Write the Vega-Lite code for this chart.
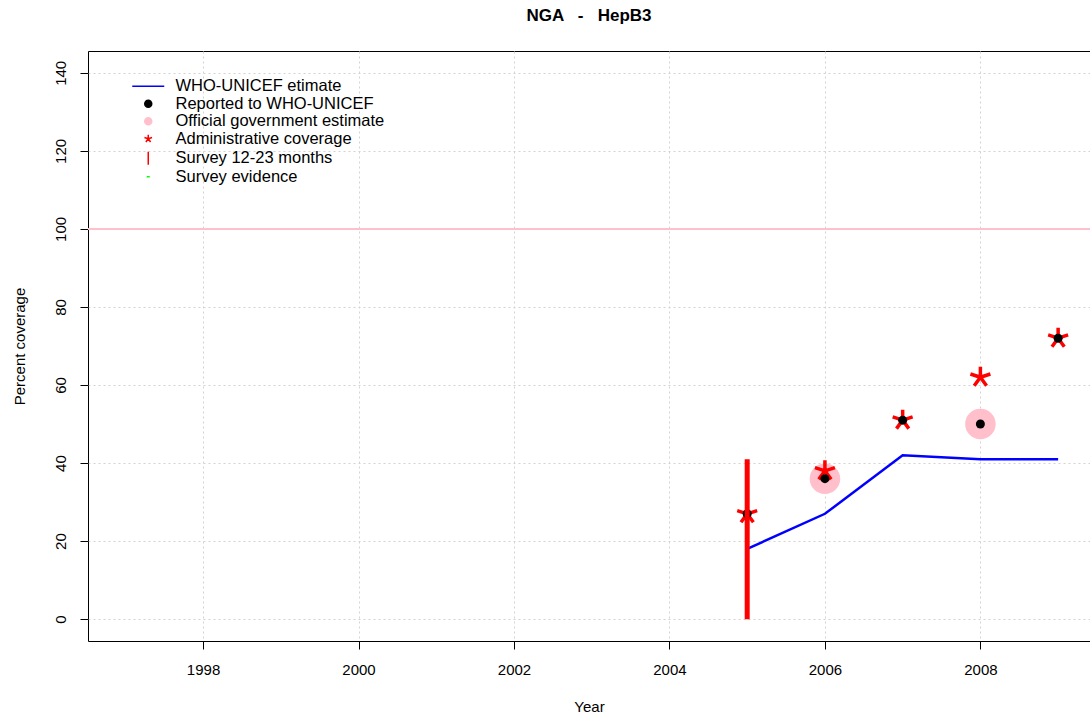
{
  "$schema": "https://vega.github.io/schema/vega-lite/v6.json",
  "autosize": "none",
  "padding": {"left": 88, "top": 51, "right": 0, "bottom": 76},
  "width": 1002,
  "height": 590,
  "background": "white",
  "title": {"text": "NGA \u00a0 - \u00a0 HepB3", "fontSize": 17, "fontWeight": "bold", "font": "Liberation Sans", "color": "#000", "anchor": "middle", "offset": 26},
  "data": {"values": [
    {"year": 2005, "value": 18, "series": "WHO-UNICEF etimate"},
    {"year": 2006, "value": 27, "series": "WHO-UNICEF etimate"},
    {"year": 2007, "value": 42, "series": "WHO-UNICEF etimate"},
    {"year": 2008, "value": 41, "series": "WHO-UNICEF etimate"},
    {"year": 2009, "value": 41, "series": "WHO-UNICEF etimate"},
    {"year": 2006, "value": 36, "series": "Official government estimate"},
    {"year": 2008, "value": 50, "series": "Official government estimate"},
    {"year": 2005, "value": 27, "series": "Administrative coverage"},
    {"year": 2006, "value": 38, "series": "Administrative coverage"},
    {"year": 2007, "value": 51, "series": "Administrative coverage"},
    {"year": 2008, "value": 62, "series": "Administrative coverage"},
    {"year": 2009, "value": 72, "series": "Administrative coverage"},
    {"year": 2005, "value": 27, "series": "Reported to WHO-UNICEF"},
    {"year": 2006, "value": 36, "series": "Reported to WHO-UNICEF"},
    {"year": 2007, "value": 51, "series": "Reported to WHO-UNICEF"},
    {"year": 2008, "value": 50, "series": "Reported to WHO-UNICEF"},
    {"year": 2009, "value": 72, "series": "Reported to WHO-UNICEF"},
    {"year": 2005, "value": 41, "series": "Survey 12-23 months"}
  ]},
  "encoding": {
    "x": {"field": "year", "type": "quantitative",
      "scale": {"domain": [1996.52, 2009.41], "nice": false, "zero": false},
      "axis": {"values": [1998, 2000, 2002, 2004, 2006, 2008], "format": "d", "title": "Year", "labelPadding": 13, "titlePadding": 22}},
    "y": {"field": "value", "type": "quantitative",
      "scale": {"domain": [-5.6, 145.6], "nice": false, "zero": false},
      "axis": {"values": [0, 20, 40, 60, 80, 100, 120, 140], "title": "Percent coverage", "labelAngle": 270, "labelAlign": "center", "labelBaseline": "bottom", "labelPadding": 12, "titlePadding": 26}},
    "color": {"field": "series", "type": "nominal",
      "scale": {"domain": ["WHO-UNICEF etimate", "Reported to WHO-UNICEF", "Official government estimate", "Administrative coverage", "Survey 12-23 months", "Survey evidence"],
        "range": ["#0000FF", "#000000", "#FFC0CB", "#FF0000", "#FF0000", "#00FF00"]},
      "legend": {"title": null, "orient": "none", "legendX": 52, "legendY": 27, "padding": 0, "labelFontSize": 16.5, "labelLimit": 500, "labelFont": "Liberation Sans", "labelColor": "#000", "symbolSize": 100, "rowPadding": 0.5, "labelOffset": 19,
        "encode": {"symbols": {"update": {
          "shape": {"signal": "datum.value == 'WHO-UNICEF etimate' ? 'M-3.2,0L3.2,0' : datum.value == 'Administrative coverage' ? 'M0,0L0,-0.8M0,0L0.76,-0.25M0,0L0.47,0.65M0,0L-0.47,0.65M0,0L-0.76,-0.25' : datum.value == 'Survey 12-23 months' ? 'M0,-1.3L0,1.3' : datum.value == 'Survey evidence' ? 'M-0.3,0L0.3,0' : 'M0.7,0A0.7,0.7 0 1,1 -0.7,0A0.7,0.7 0 1,1 0.7,0Z'"},
          "fill": {"signal": "(datum.value == 'Reported to WHO-UNICEF' || datum.value == 'Official government estimate') ? scale('color', datum.value) : 'transparent'"},
          "stroke": {"signal": "scale('color', datum.value)"},
          "strokeWidth": {"value": 1.5},
          "opacity": {"value": 1},
          "size": {"value": 100}
        }}}}}
  },
  "layer": [
    {"mark": {"type": "rule", "color": "#FFC0CB", "strokeWidth": 1}, "encoding": {"x": null, "color": null, "y": {"datum": 100}}},
    {"transform": [{"filter": "datum.series == 'WHO-UNICEF etimate'"}], "mark": {"type": "line", "strokeWidth": 2.5}},
    {"transform": [{"filter": "datum.series == 'Official government estimate'"}], "mark": {"type": "point", "shape": "circle", "filled": true, "opacity": 1, "size": 930}},
    {"transform": [{"filter": "datum.series == 'Administrative coverage'"}], "mark": {"type": "point", "shape": "M0,0L0,-1M0,0L0.951,-0.309M0,0L0.588,0.809M0,0L-0.588,0.809M0,0L-0.951,-0.309", "filled": false, "opacity": 1, "size": 441, "strokeWidth": 3.5}},
    {"transform": [{"filter": "datum.series == 'Reported to WHO-UNICEF'"}], "mark": {"type": "point", "shape": "circle", "filled": true, "opacity": 1, "size": 81}},
    {"transform": [{"filter": "datum.series == 'Survey 12-23 months'"}], "mark": {"type": "rule", "strokeWidth": 5}, "encoding": {"y2": {"datum": 0}}}
  ],
  "config": {
    "font": "Liberation Sans",
    "view": {"stroke": "#000", "strokeWidth": 1},
    "axis": {"domain": false, "grid": true, "gridColor": "#D3D3D3", "gridDash": [2, 3], "gridWidth": 1, "tickColor": "#000", "tickSize": 8, "tickWidth": 1, "labelFontSize": 15, "labelColor": "#000", "labelFont": "Liberation Sans", "titleFont": "Liberation Sans", "titleFontSize": 15, "titleFontWeight": "normal", "titleColor": "#000"}
  }
}
